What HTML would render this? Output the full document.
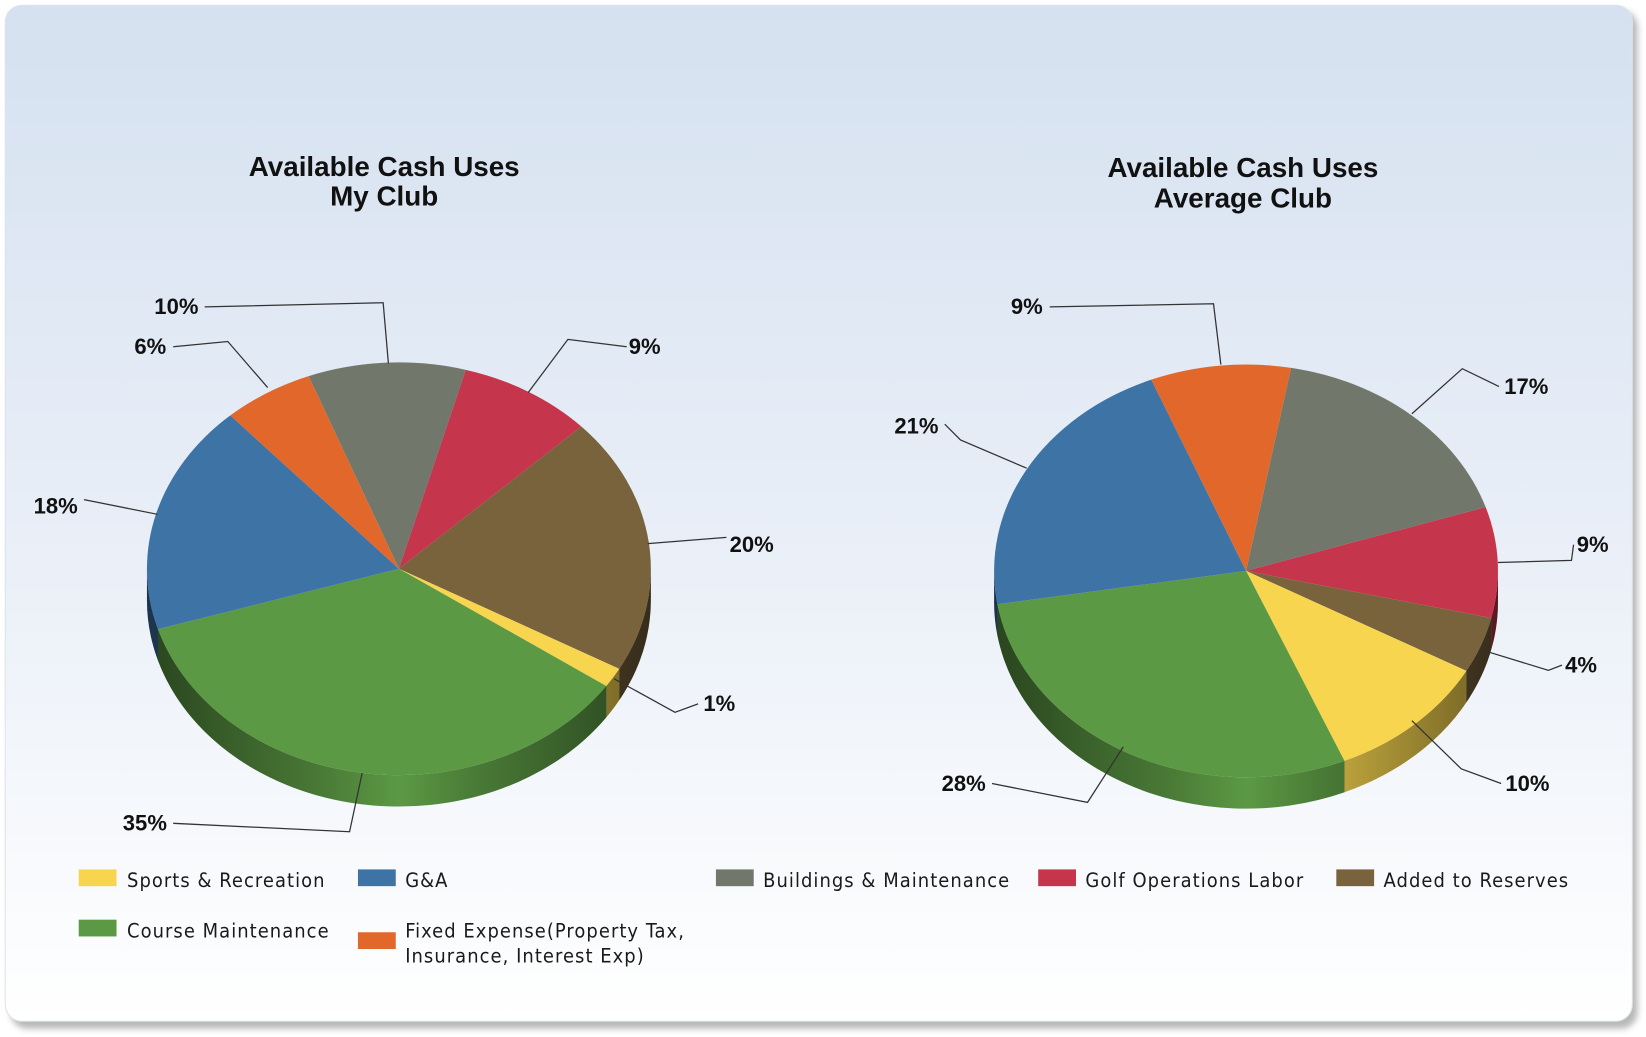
<!DOCTYPE html>
<html><head><meta charset="utf-8"><style>
html,body{margin:0;padding:0;background:#fff;}
svg{display:block}
.lbl{font-family:"Liberation Sans",sans-serif;font-weight:bold;font-size:21px;fill:#111}
.ttl{font-family:"Liberation Sans",sans-serif;font-weight:bold;font-size:26.5px;fill:#111}
.lg{font-family:"DejaVu Sans Condensed","DejaVu Sans","Liberation Sans",sans-serif;font-size:19px;letter-spacing:1px;fill:#1a1a1a}
</style></head><body>
<svg id="s" width="1646" height="1037" viewBox="0 0 1568 990" preserveAspectRatio="none" xmlns="http://www.w3.org/2000/svg">
<defs>
<linearGradient id="bg" x1="0" y1="0" x2="0" y2="1">
<stop offset="0" stop-color="#d5e1f0"/><stop offset="0.5" stop-color="#e8eef7"/><stop offset="1" stop-color="#ffffff"/>
</linearGradient>
<linearGradient id="sh" x1="0" y1="0" x2="1" y2="0">
<stop offset="0" stop-color="#000" stop-opacity="0.55"/>
<stop offset="0.35" stop-color="#000" stop-opacity="0.2"/>
<stop offset="0.5" stop-color="#000" stop-opacity="0"/>
<stop offset="0.65" stop-color="#000" stop-opacity="0.2"/>
<stop offset="1" stop-color="#000" stop-opacity="0.55"/>
</linearGradient>
<filter id="blur"><feGaussianBlur stdDeviation="3"/></filter>
</defs>
<rect x="10" y="10" width="1550" height="972" rx="16" fill="#888" opacity="0.6" filter="url(#blur)"/>
<rect x="5" y="5" width="1550" height="970" rx="16" fill="url(#bg)" stroke="#dde3ea"/>
<g id="pies"></g>
<text class="ttl" x="366" y="168" text-anchor="middle">Available Cash Uses</text>
<text class="ttl" x="366" y="196" text-anchor="middle">My Club</text>
<text class="ttl" x="1184" y="169" text-anchor="middle">Available Cash Uses</text>
<text class="ttl" x="1184" y="198" text-anchor="middle">Average Club</text>
<g fill="none" stroke="#333" stroke-width="1.2">
<polyline points="195,293 365,289 370,347"/>
<polyline points="165,331 217,326 255,370"/>
<polyline points="597,331 541,324 503,375"/>
<polyline points="80,477 150,491"/>
<polyline points="692,513 617,519"/>
<polyline points="665,672 643,680 585,648"/>
<polyline points="165,786 333,794 345,738"/>
<polyline points="1000,293 1156,290 1163,348"/>
<polyline points="1428,369 1393,352 1345,395"/>
<polyline points="900,405 915,420 978,447"/>
<polyline points="1499,520 1497,535 1427,537"/>
<polyline points="1488,635 1475,640 1410,620"/>
<polyline points="1430,748 1392,734 1345,688"/>
<polyline points="945,748 1036,766 1070,713"/>
</g>
<g class="lbl">
<text x="147" y="300">10%</text>
<text x="128" y="338">6%</text>
<text x="599" y="338">9%</text>
<text x="32" y="490">18%</text>
<text x="695" y="527">20%</text>
<text x="670" y="679">1%</text>
<text x="117" y="793">35%</text>
<text x="963" y="300">9%</text>
<text x="1433" y="376">17%</text>
<text x="852" y="414">21%</text>
<text x="1502" y="527">9%</text>
<text x="1491" y="642">4%</text>
<text x="1434" y="755">10%</text>
<text x="897" y="755">28%</text>
</g>
<g>
<rect x="75" y="830" width="36" height="16" fill="#f7d54f"/><text class="lg" x="121" y="847">Sports &amp; Recreation</text>
<rect x="341" y="830" width="36" height="16" fill="#3e73a6"/><text class="lg" x="386" y="847">G&amp;A</text>
<rect x="682" y="830" width="36" height="16" fill="#71786b"/><text class="lg" x="727" y="847">Buildings &amp; Maintenance</text>
<rect x="989" y="830" width="36" height="16" fill="#c5364c"/><text class="lg" x="1034" y="847">Golf Operations Labor</text>
<rect x="1273" y="830" width="36" height="16" fill="#79633c"/><text class="lg" x="1318" y="847">Added to Reserves</text>
<rect x="75" y="878" width="36" height="16" fill="#5c9944"/><text class="lg" x="121" y="895">Course Maintenance</text>
<rect x="341" y="890" width="36" height="16" fill="#e1682a"/><text class="lg" x="386" y="895">Fixed Expense(Property Tax,</text><text class="lg" x="386" y="919">Insurance, Interest Exp)</text>
</g>
</svg>
<script>
(function(){
var NS="http://www.w3.org/2000/svg",g=document.getElementById("pies");
var C={y:"#f7d54f",b:"#3e73a6",g:"#71786b",r:"#c5364c",br:"#79633c",gr:"#5c9944",o:"#e1682a"};
function pie(cx,cy,rx,ry,d,sl){
 function pt(t,dy){var a=t*Math.PI/180;return [cx+rx*Math.cos(a),cy+ry*Math.sin(a)+(dy||0)];}
 function el(tag,at){var e=document.createElementNS(NS,tag);for(var k in at)e.setAttribute(k,at[k]);g.appendChild(e);return e;}
 sl.forEach(function(s){
  [[s[0],s[1]],[s[0]-360,s[1]-360]].forEach(function(r){
   var a=Math.max(r[0],0),b=Math.min(r[1],180);
   if(b<=a)return;
   var p1=pt(a),p2=pt(b),p3=pt(b,d),p4=pt(a,d),lg=(b-a)>180?1:0;
   var dd="M"+p1+"A"+rx+","+ry+" 0 "+lg+" 1 "+p2+"L"+p3+"A"+rx+","+ry+" 0 "+lg+" 0 "+p4+"Z";
   el("path",{d:dd,fill:s[2]});
  });
 });
 var p1=pt(0),p2=pt(180);
 el("path",{d:"M"+p1+"A"+rx+","+ry+" 0 0 1 "+p2+"L"+pt(180,d)+"A"+rx+","+ry+" 0 0 0 "+pt(0,d)+"Z",fill:"url(#sh)"});
 sl.forEach(function(s){
  var a=pt(s[0]),b=pt(s[1]),lg=(s[1]-s[0])>180?1:0;
  el("path",{d:"M"+cx+","+cy+"L"+a+"A"+rx+","+ry+" 0 "+lg+" 1 "+b+"Z",fill:s[2]});
 });
}
pie(380,543,240,197,30,[[249,285.4,C.g],[285.4,316.4,C.r],[316.4,389,C.br],[389,394.6,C.y],[394.6,523,C.gr],[523,588,C.b],[588,609,C.o]]);
pie(1187,545,240,197,30,[[280.3,342,C.g],[342,373.2,C.r],[373.2,389,C.br],[389,427,C.y],[427,530.7,C.gr],[530.7,607.9,C.b],[607.9,640.3,C.o]]);
})();
</script>
</body></html>
